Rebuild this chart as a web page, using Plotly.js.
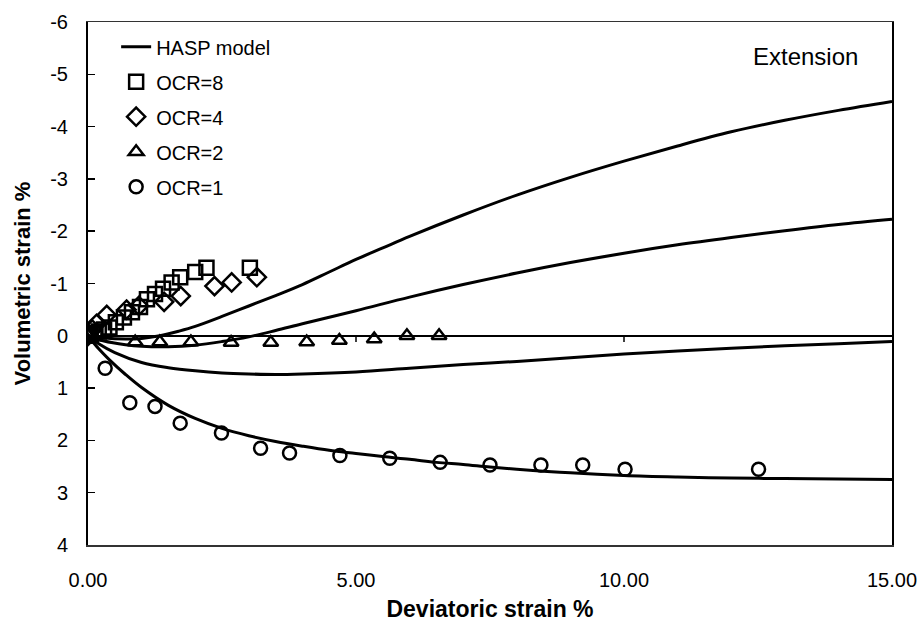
<!DOCTYPE html>
<html>
<head>
<meta charset="utf-8">
<script src="https://cdn.plot.ly/plotly-3.0.1.min.js"></script>
<style>html,body{margin:0;padding:0;background:#fff;}#chart{width:921px;height:630px;}</style>
</head>
<body>
<div id="chart"></div>
<script>
// ---- Data ----
const haspOcr8X = [0, 0.3, 0.7, 1.0, 1.34, 1.7, 2.0, 2.5, 3.0, 3.5, 4.0, 4.5, 5.0, 5.5, 6.0, 7.0, 8.0, 9.0, 10.0, 11.0, 12.0, 13.0, 14.0, 15.0];
const haspOcr8Y = [0, 0.04, 0.06, 0.05, 0, -0.09, -0.18, -0.37, -0.57, -0.77, -0.98, -1.22, -1.46, -1.68, -1.9, -2.31, -2.69, -3.03, -3.34, -3.63, -3.9, -4.12, -4.31, -4.48];

const haspOcr4X = [0, 0.3, 0.7, 1.0, 1.5, 2.0, 2.5, 3.0, 3.5, 4.0, 5.0, 6.0, 7.0, 8.0, 9.0, 10.0, 11.0, 12.0, 13.0, 14.0, 15.0];
const haspOcr4Y = [0, 0.1, 0.17, 0.2, 0.21, 0.18, 0.11, 0.02, -0.1, -0.23, -0.48, -0.74, -0.98, -1.2, -1.4, -1.58, -1.74, -1.88, -2.01, -2.13, -2.23];

const haspOcr2X = [0, 0.2, 0.5, 1.0, 1.5, 2.0, 2.5, 3.0, 3.5, 4.0, 5.0, 6.0, 7.0, 8.0, 9.0, 10.0, 11.0, 12.0, 13.0, 14.0, 15.0];
const haspOcr2Y = [0, 0.15, 0.32, 0.51, 0.61, 0.67, 0.71, 0.73, 0.74, 0.73, 0.69, 0.62, 0.55, 0.49, 0.42, 0.35, 0.29, 0.24, 0.19, 0.15, 0.11];

const haspOcr1X = [0, 0.2, 0.4, 0.7, 1.0, 1.5, 2.0, 2.5, 3.0, 3.5, 4.0, 4.5, 5.0, 5.5, 6.0, 6.5, 7.0, 7.5, 8.0, 9.0, 10.0, 11.0, 12.0, 13.0, 14.0, 15.0];
const haspOcr1Y = [0, 0.25, 0.46, 0.74, 0.99, 1.33, 1.58, 1.77, 1.91, 2.02, 2.11, 2.19, 2.25, 2.31, 2.36, 2.42, 2.46, 2.51, 2.55, 2.62, 2.67, 2.7, 2.72, 2.73, 2.74, 2.75];

const ocr8X = [0, 0.05, 0.12, 0.2, 0.3, 0.4, 0.52, 0.67, 0.82, 0.97, 1.1, 1.25, 1.4, 1.56, 1.72, 2.0, 2.21, 3.02];
const ocr8Y = [0, -0.02, -0.05, -0.08, -0.12, -0.16, -0.26, -0.35, -0.45, -0.55, -0.7, -0.8, -0.9, -1.02, -1.12, -1.22, -1.3, -1.3];

const ocr4X = [0, 0.08, 0.16, 0.35, 0.72, 0.95, 1.42, 1.73, 2.36, 2.68, 3.15];
const ocr4Y = [0, -0.12, -0.23, -0.4, -0.5, -0.57, -0.65, -0.76, -0.95, -1.02, -1.12];

const ocr2X = [0, 0.88, 1.34, 1.92, 2.67, 3.41, 4.08, 4.69, 5.34, 5.95, 6.55];
const ocr2Y = [0, 0.12, 0.12, 0.12, 0.13, 0.13, 0.12, 0.09, 0.06, 0.0, 0.0];

const ocr1X = [0, 0.32, 0.78, 1.25, 1.72, 2.49, 3.22, 3.76, 4.70, 5.63, 6.57, 7.5, 8.45, 9.23, 10.02, 12.51];
const ocr1Y = [0, 0.62, 1.28, 1.35, 1.67, 1.86, 2.15, 2.24, 2.29, 2.34, 2.42, 2.47, 2.47, 2.47, 2.55, 2.55];

const xTickVals = [0, 5, 10, 15];
const xTickText = ["0.00", "5.00", "10.00", "15.00"];
const yTickVals = [-6, -5, -4, -3, -2, -1, 0, 1, 2, 3, 4];
const yTickText = yTickVals.map(v => String(v)); // plain hyphen minus
const zeroLineTicks = [5, 10];

// ---- Build model trace (all curves in one legend entry) ----
const modelCurves = [[haspOcr8X, haspOcr8Y], [haspOcr4X, haspOcr4Y], [haspOcr2X, haspOcr2Y], [haspOcr1X, haspOcr1Y]];
const modelX = [], modelY = [];
modelCurves.forEach(([xs, ys], i) => {
  if (i > 0) { modelX.push(null); modelY.push(null); }
  xs.forEach((v, j) => { modelX.push(v); modelY.push(ys[j]); });
});

const FONT = 'Arial, "Liberation Sans", sans-serif';
const mk = (sym, size) => ({symbol: sym, size: size, color: 'black', line: {color: 'black', width: 2.5}});

const traces = [
  {x: modelX, y: modelY, type: 'scatter', mode: 'lines', name: 'HASP model',
   line: {color: 'black', width: 3, shape: 'spline', smoothing: 1}, connectgaps: false, legendgroup: 'g0'},
  {x: ocr8X, y: ocr8Y, type: 'scatter', mode: 'markers', name: 'OCR=8', marker: mk('square-open', 14), legendgroup: 'g1'},
  {x: ocr4X, y: ocr4Y, type: 'scatter', mode: 'markers', name: 'OCR=4', marker: mk('diamond-open', 14), legendgroup: 'g2'},
  {x: ocr2X, y: ocr2Y, type: 'scatter', mode: 'markers', name: 'OCR=2', marker: mk('triangle-up-open', 13), legendgroup: 'g3'},
  {x: ocr1X, y: ocr1Y, type: 'scatter', mode: 'markers', name: 'OCR=1', marker: mk('circle-open', 13), legendgroup: 'g4'}
];

const layout = {
  width: 921, height: 630,
  margin: {l: 88, r: 29, t: 22, b: 85},
  paper_bgcolor: 'white', plot_bgcolor: 'white',
  font: {family: FONT, size: 20, color: 'black'},
  showlegend: true,
  legend: {x: 0.035, y: 0.99, xanchor: 'left', yanchor: 'top', bgcolor: 'rgba(0,0,0,0)',
           font: {family: FONT, size: 20, color: 'black'}, tracegroupgap: 6, traceorder: 'grouped'},
  xaxis: {
    range: [0, 15], tickmode: 'array', tickvals: xTickVals, ticktext: xTickText,
    showgrid: false, zeroline: false, showline: true, linecolor: '#333', linewidth: 1.5, mirror: true,
    ticks: '', ticklabelstandoff: 16, tickfont: {family: FONT, size: 20, color: 'black'},
    title: {text: '<b>Deviatoric strain %</b>', font: {family: FONT, size: 23, color: 'black'}, standoff: 11}
  },
  yaxis: {
    range: [4, -6], tickmode: 'array', tickvals: yTickVals, ticktext: yTickText,
    showgrid: false, zeroline: true, zerolinecolor: 'black', zerolinewidth: 2,
    showline: true, linecolor: 'black', linewidth: 2, mirror: true,
    ticks: 'inside', ticklen: 7, tickwidth: 1.5, tickcolor: 'black', ticklabelstandoff: 14,
    tickfont: {family: FONT, size: 20, color: 'black'},
    title: {text: '<b>Volumetric strain %</b>', font: {family: FONT, size: 22, color: 'black'}, standoff: 14}
  },
  shapes: zeroLineTicks.map(v => ({type: 'line', xref: 'x', yref: 'y', x0: v, x1: v, y0: 0, y1: 0.12,
                                   line: {color: 'black', width: 1.5}})),
  annotations: [{text: 'Extension', xref: 'paper', yref: 'paper', x: 0.96, y: 0.934,
                 xanchor: 'right', yanchor: 'middle', showarrow: false,
                 font: {family: FONT, size: 24, color: 'black'}}]
};

Plotly.newPlot('chart', traces, layout, {displayModeBar: false, staticPlot: true});
</script>
</body>
</html>
